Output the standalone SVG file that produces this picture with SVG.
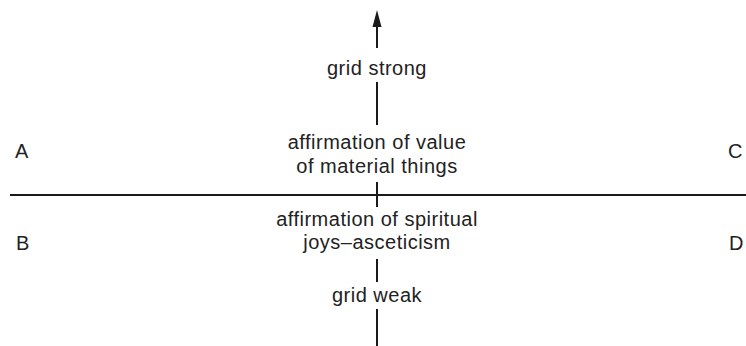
<svg xmlns="http://www.w3.org/2000/svg" width="746" height="346" viewBox="0 0 746 346">
<style>
.t{font-family:"Liberation Sans",Arial,sans-serif;font-size:20px;fill:#222;letter-spacing:0.5px}
.c{text-anchor:middle}
.ln{stroke:#1a1a1a;stroke-width:2;fill:none}
</style>
<g id="connectors">
<line class="ln" x1="10" y1="195" x2="746" y2="195"/>
<path d="M377,48 L377,26" class="ln"/>
<path d="M372.5,27 L377,10 L381.5,27 Z" fill="#1a1a1a"/>
<line class="ln" x1="377" y1="82" x2="377" y2="125"/>
<line class="ln" x1="377" y1="182" x2="377" y2="207"/>
<line class="ln" x1="377" y1="259" x2="377" y2="282"/>
<line class="ln" x1="377" y1="309" x2="377" y2="346"/>
</g>
<g id="grid-strong"><text class="t c" x="377" y="75">grid strong</text></g>
<g id="material"><text class="t c" x="377" y="149">affirmation of value</text><text class="t c" x="377" y="173">of material things</text></g>
<g id="spiritual"><text class="t c" x="377" y="226">affirmation of spiritual</text><text class="t c" x="377" y="249">joys–asceticism</text></g>
<g id="grid-weak"><text class="t c" x="377" y="302">grid weak</text></g>
<g id="A"><text class="t" x="15" y="158">A</text></g>
<g id="B"><text class="t" x="16" y="250">B</text></g>
<g id="C"><text class="t" x="728" y="158">C</text></g>
<g id="D"><text class="t" x="729" y="250">D</text></g>
</svg>
